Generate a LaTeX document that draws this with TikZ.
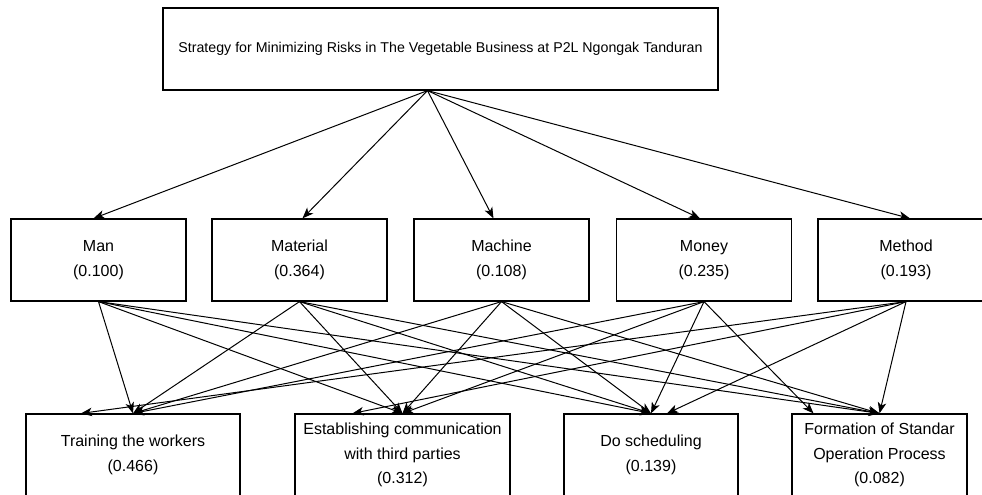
\documentclass[tikz,border=0pt]{standalone}
\usepackage{fontspec}
\setmainfont{Liberation Sans}
\usetikzlibrary{arrows.meta}
\begin{document}
\begin{tikzpicture}[x=1pt,y=-1pt,
  box/.style={draw, line width=1.2pt, minimum height=82pt, align=center,
    font=\fontsize{16}{24.5}\selectfont, inner sep=0pt},
  arr/.style={-{Stealth[length=11pt,width=8.5pt,inset=3pt]}, line width=1pt}]
\clip (0,0) rectangle (982,495);
\fill[white] (0,0) rectangle (982,495);
% goal
\node[box, minimum width=555pt, font=\fontsize{14.2}{17}\selectfont] (goal) at (440.5,49)
  {Strategy for Minimizing Risks in The Vegetable Business at P2L Ngongak Tanduran};
\coordinate (g) at ([xshift=-13pt]goal.south);
% criteria
\node[box, minimum width=175pt] (man) at (98.5,260) {Man\\(0.100)};
\node[box, minimum width=175pt] (mat) at (299.5,260) {Material\\(0.364)};
\node[box, minimum width=175pt] (mac) at (501.5,260) {Machine\\(0.108)};
\node[box, minimum width=175pt] (mon) at (704,260) {Money\\(0.235)};
\node[box, minimum width=176pt] (met) at (906,260) {Method\\(0.193)};
% alternatives
\node[box, minimum width=214pt] (tw) at (133,455) {Training the workers\\(0.466)};
\node[box, minimum width=215pt] (ec) at (402.5,455) {Establishing communication\\with third parties\\(0.312)};
\node[box, minimum width=174pt] (ds) at (651,455) {Do scheduling\\(0.139)};
\node[box, minimum width=175pt] (fs) at (879.5,455) {Formation of Standar\\Operation Process\\(0.082)};
% goal to criteria
\draw[arr] (g) -- ([xshift=-5pt]man.north);
\draw[arr] (g) -- ([xshift=3pt]mat.north);
\draw[arr] (g) -- ([xshift=-8pt]mac.north);
\draw[arr] (g) -- ([xshift=-4pt]mon.north);
\draw[arr] (g) -- ([xshift=4pt]met.north);
% criteria to alternatives
\foreach \s in {man,mat,mac,mon}{
  \draw[arr] (\s.south) -- (tw.north);
  \draw[arr] (\s.south) -- (ec.north);
  \draw[arr] (\s.south) -- (ds.north);
}
\draw[arr] (met.south) -- ([xshift=-52pt]tw.north);
\draw[arr] (met.south) -- ([xshift=-50pt]ec.north);
\draw[arr] (met.south) -- ([xshift=16pt]ds.north);
\foreach \s in {man,mat,mac,met}{
  \draw[arr] (\s.south) -- (fs.north);
}
\draw[arr] (mon.south) -- ([xshift=-66pt]fs.north);
\end{tikzpicture}
\end{document}
